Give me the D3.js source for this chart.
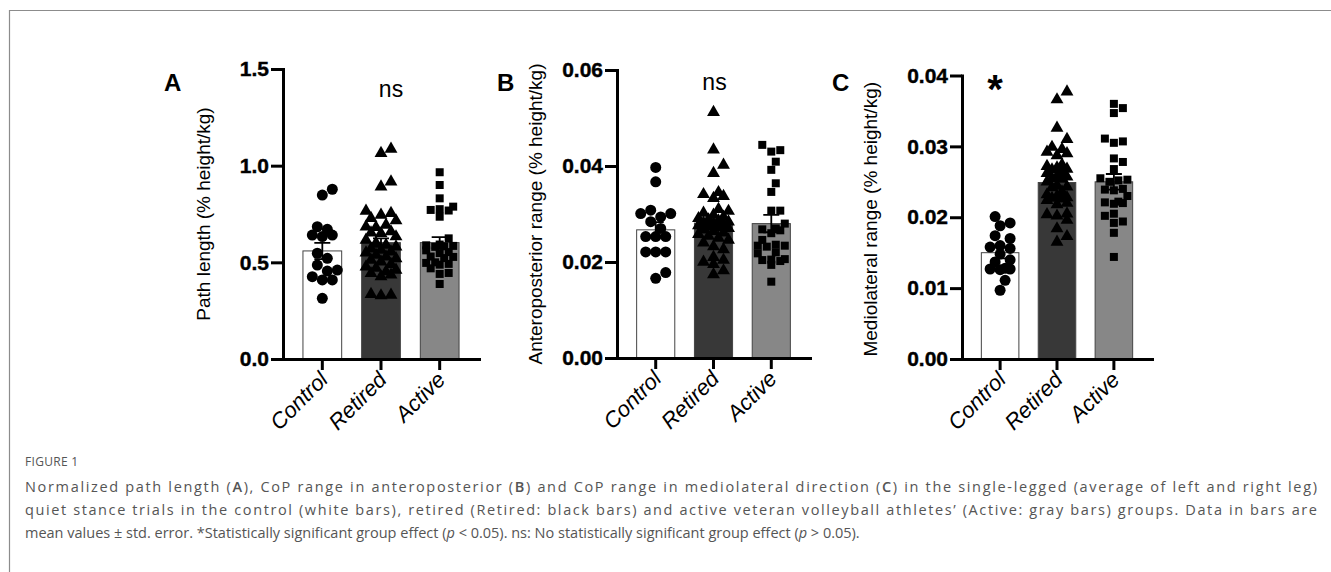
<html>
<head>
<script src="https://cdnjs.cloudflare.com/ajax/libs/d3/7.8.5/d3.min.js"></script>
<style>
body {
   margin: 0;
   background: #fff;
}
svg text {
   font-family: "Liberation Sans", Arial, sans-serif;
}
.caption text {
   font-family: "Open Sans", "Noto Sans", sans-serif;
   fill: #555;
}
</style>
</head>
<body>
<script>

var groups = ['Control', 'Retired', 'Active'];

// A - path length (% height/kg)
var pathControl = [0.878, 0.848, 0.684, 0.671, 0.641, 0.641, 0.633, 0.547, 0.521, 0.486, 0.460, 0.455, 0.426, 0.409, 0.409, 0.314];
var pathRetired = [1.086, 1.064, 0.917, 0.891, 0.766, 0.754, 0.745, 0.728, 0.716, 0.693, 0.684, 0.681, 0.659, 0.653,
                   0.650, 0.633, 0.616, 0.600, 0.590, 0.581, 0.570, 0.564, 0.555, 0.550, 0.538, 0.529, 0.520, 0.512,
                   0.503, 0.490, 0.477, 0.470, 0.460, 0.452, 0.443, 0.435, 0.426, 0.335, 0.331, 0.328];
var pathActive = [0.966, 0.900, 0.831, 0.788, 0.775, 0.771, 0.768, 0.736, 0.624, 0.592, 0.588, 0.585, 0.583, 0.580,
                  0.562, 0.553, 0.548, 0.530, 0.528, 0.522, 0.500, 0.497, 0.492, 0.488, 0.469, 0.445, 0.440, 0.388];
var pathMean = [0.559, 0.602, 0.602];
var pathSem = [0.042, 0.022, 0.028];
var pathTicks = [0, 0.5, 1.0, 1.5];

// B - anteroposterior range
var apControl = [0.0397, 0.0367, 0.0308, 0.0301, 0.0301, 0.0294, 0.0284, 0.0270, 0.0253, 0.0253, 0.0253, 0.0221, 0.0221, 0.0221, 0.0178, 0.0166];
var apRetired = [0.0512, 0.0434, 0.0402, 0.0385, 0.0345, 0.0341, 0.0337, 0.0333, 0.0310, 0.0306, 0.0302, 0.0298, 0.0294, 0.0291,
                 0.0288, 0.0286, 0.0284, 0.0282, 0.0280, 0.0278, 0.0276, 0.0274, 0.0272, 0.0270, 0.0267, 0.0264, 0.0261, 0.0258,
                 0.0254, 0.0250, 0.0246, 0.0240, 0.0232, 0.0226, 0.0210, 0.0204, 0.0200, 0.0195, 0.0182, 0.0174];
var apActive = [0.0444, 0.0433, 0.0430, 0.0409, 0.0392, 0.0364, 0.0346, 0.0307, 0.0307, 0.0280, 0.0270, 0.0268, 0.0266, 0.0260,
                0.0246, 0.0236, 0.0234, 0.0234, 0.0232, 0.0220, 0.0218, 0.0206, 0.0205, 0.0204, 0.0202, 0.0194, 0.0159];
var apMean = [0.0267, 0.0281, 0.0280];
var apSem = [0.0016, 0.0012, 0.0018];
var apTicks = [0, 0.02, 0.04, 0.06];

// C - mediolateral range
var mlControl = [0.0201, 0.0192, 0.0188, 0.0174, 0.0170, 0.0160, 0.0158, 0.0156, 0.0148, 0.0140, 0.0137, 0.0128, 0.0127, 0.0127, 0.0126, 0.0111, 0.0097];
var mlRetired = [0.0377, 0.0366, 0.0326, 0.0310, 0.0299, 0.0296, 0.0292, 0.0290, 0.0287, 0.0274, 0.0272, 0.0270, 0.0268, 0.0267,
                 0.0265, 0.0262, 0.0258, 0.0257, 0.0255, 0.0254, 0.0250, 0.0245, 0.0243, 0.0242, 0.0236, 0.0232, 0.0230, 0.0228,
                 0.0227, 0.0226, 0.0224, 0.0220, 0.0218, 0.0205, 0.0204, 0.0202, 0.0196, 0.0184, 0.0173, 0.0165];
var mlActive = [0.0360, 0.0354, 0.0347, 0.0311, 0.0307, 0.0305, 0.0283, 0.0278, 0.0268, 0.0255, 0.0253, 0.0252, 0.0250, 0.0240,
                0.0239, 0.0238, 0.0230, 0.0222, 0.0221, 0.0220, 0.0219, 0.0205, 0.0202, 0.0194, 0.0192, 0.0178, 0.0144];
var mlMean = [0.0150, 0.0249, 0.0250];
var mlSem = [0.0008, 0.0009, 0.0011];
var mlTicks = [0, 0.01, 0.02, 0.03, 0.04];

var barFill = ['#ffffff', '#383838', '#878787'];
var symbols = [d3.symbolCircle, d3.symbolTriangle, d3.symbolSquare];
var symbolSize = [95, 72, 64];

var svg = d3.select('body').append('svg').attr('width', 1331).attr('height', 572);

// figure frame
svg.append('path')
  .attr('d', 'M9.5,572V10.5H1331')
  .attr('fill', 'none')
  .attr('stroke', '#8c8c8c')
  .attr('stroke-width', 1.2);

// simple beeswarm, returns x offsets
function swarm(vals, y, d, maxOff) {
  var placed = [];
  var out = new Array(vals.length);
  var order = vals.map(function(v, i) { return i; }).sort(function(a, b) { return vals[a] - vals[b]; });
  var step = d / 2;
  order.forEach(function(i) {
    var py = y(vals[i]);
    var best = 0, bestDist = -1;
    for (var k = 0; k * step <= maxOff; k++) {
      var cands = k === 0 ? [0] : [k * step, -k * step];
      for (var c = 0; c < cands.length; c++) {
        var minD = Infinity;
        placed.forEach(function(p) {
          var dd = Math.sqrt((p[0] - cands[c]) * (p[0] - cands[c]) + (p[1] - py) * (p[1] - py));
          if (dd < minD) minD = dd;
        });
        if (minD >= d) { best = cands[c]; bestDist = Infinity; break; }
        if (minD > bestDist) { bestDist = minD; best = cands[c]; }
      }
      if (bestDist === Infinity) break;
    }
    out[i] = best;
    placed.push([best, py]);
  });
  return out;
}

function drawPanel(cfg) {
  var g = svg.append('g');

  var y = d3.scaleLinear().domain([0, cfg.ticks[cfg.ticks.length - 1]]).range([cfg.bottom, cfg.top]);
  var x = d3.scaleBand().domain(groups).range([cfg.left, cfg.right]).paddingInner(0.34).paddingOuter(0.34);
  var bw = x.bandwidth();

  // bars
  g.selectAll('.bar')
    .data(groups)
    .enter()
    .append('rect')
    .attr('x', function(d) { return x(d); })
    .attr('y', function(d, i) { return y(cfg.mean[i]); })
    .attr('width', bw)
    .attr('height', function(d, i) { return cfg.bottom - y(cfg.mean[i]); })
    .attr('fill', function(d, i) { return barFill[i]; })
    .attr('stroke', '#444')
    .attr('stroke-width', 1);

  // points
  cfg.values.forEach(function(vals, i) {
    var offs = swarm(vals, y, i === 2 ? 9 : 10, bw / 2 - 4);
    g.selectAll('.pt' + i)
      .data(vals)
      .enter()
      .append('path')
      .attr('d', d3.symbol().type(symbols[i]).size(symbolSize[i]))
      .attr('transform', function(d, j) {
        return 'translate(' + (x(groups[i]) + bw / 2 + offs[j]) + ',' + y(d) + ')';
      })
      .attr('fill', '#000');
  });

  // error bars (mean +/- sem)
  groups.forEach(function(grp, i) {
    var cx = x(grp) + bw / 2;
    var hi = y(cfg.mean[i] + cfg.sem[i]);
    var lo = y(cfg.mean[i] - cfg.sem[i]);
    g.append('path')
      .attr('d', 'M' + cx + ',' + lo + 'V' + hi + 'M' + (cx - 8) + ',' + hi + 'H' + (cx + 8) +
                 'M' + (cx - 8) + ',' + lo + 'H' + (cx + 8))
      .attr('stroke', '#000')
      .attr('stroke-width', 1.8)
      .attr('fill', 'none');
  });

  var yAxis = g.append('g')
    .attr('transform', 'translate(' + cfg.left + ',0)')
    .call(d3.axisLeft(y).tickValues(cfg.ticks).tickFormat(d3.format(cfg.fmt)).tickSize(12).tickSizeOuter(0).tickPadding(2));

  var xAxis = g.append('g')
    .attr('transform', 'translate(0,' + cfg.bottom + ')')
    .call(d3.axisBottom(x).tickSize(11).tickSizeOuter(0));

  [yAxis, xAxis].forEach(function(a) {
    a.select('.domain').attr('stroke-width', 3).attr('stroke-linecap', 'square');
    a.selectAll('.tick line').attr('stroke-width', 3);
  });

  yAxis.selectAll('text')
    .attr('font-size', 21)
    .attr('font-weight', 'bold')
    .attr('font-family', '"Liberation Sans", Arial, sans-serif')
    .attr('fill', '#000')
    .attr('stroke', '#000')
    .attr('stroke-width', 0.4);

  xAxis.selectAll('text')
    .attr('x', null)
    .attr('y', null)
    .attr('dy', null)
    .attr('text-anchor', 'end')
    .attr('transform', 'translate(7,22) rotate(-45)')
    .attr('font-size', 22)
    .attr('font-style', 'italic')
    .attr('font-family', '"Liberation Sans", Arial, sans-serif')
    .attr('fill', '#000');

  // y title
  g.append('text')
    .attr('transform', 'translate(' + cfg.titleX + ',' + ((cfg.top + cfg.bottom) / 2 + cfg.titleDy) + ') rotate(-90)')
    .attr('text-anchor', 'middle')
    .attr('font-size', 19)
    .attr('fill', '#000')
    .text(cfg.title);

  // panel letter
  g.append('text')
    .attr('x', cfg.letterX)
    .attr('y', 91)
    .attr('font-size', 24)
    .attr('font-weight', 'bold')
    .attr('fill', '#000')
    .text(cfg.letter);

  // significance mark
  var mk = cfg.mark;
  g.append('text')
    .attr('x', x(groups[mk.group]) + bw / 2 + mk.dx)
    .attr('y', mk.y)
    .attr('text-anchor', 'middle')
    .attr('font-size', mk.size)
    .attr('font-weight', mk.bold ? 'bold' : 'normal')
    .attr('fill', '#000')
    .text(mk.text);
}

drawPanel({
  letter: 'A', letterX: 164, title: 'Path length (% height/kg)', titleX: 210, titleDy: 0,
  left: 283, right: 479, top: 69, bottom: 359, ticks: pathTicks, fmt: '.1f',
  values: [pathControl, pathRetired, pathActive], mean: pathMean, sem: pathSem,
  mark: {text: 'ns', group: 1, dx: 10, y: 97, size: 23, bold: false}
});

drawPanel({
  letter: 'B', letterX: 497, title: 'Anteroposterior range (% height/kg)', titleX: 542, titleDy: 0,
  left: 617, right: 810, top: 70, bottom: 358, ticks: apTicks, fmt: '.2f',
  values: [apControl, apRetired, apActive], mean: apMean, sem: apSem,
  mark: {text: 'ns', group: 1, dx: 1, y: 90, size: 23, bold: false}
});

drawPanel({
  letter: 'C', letterX: 832, title: 'Mediolateral range (% height/kg)', titleX: 877, titleDy: 2,
  left: 962, right: 1152, top: 75.5, bottom: 359, ticks: mlTicks, fmt: '.2f',
  values: [mlControl, mlRetired, mlActive], mean: mlMean, sem: mlSem,
  mark: {text: '*', group: 0, dx: -5, y: 103, size: 40, bold: true}
});

// caption
var cap = svg.append('g').attr('class', 'caption');

cap.append('text')
  .attr('x', 25)
  .attr('y', 466)
  .attr('font-size', 12)
  .attr('letter-spacing', 0.3)
  .text('FIGURE 1');

var captionLines = [
  [['Normalized path length (', ''], ['A', 'b'], ['), CoP range in anteroposterior (', ''], ['B', 'b'],
   [') and CoP range in mediolateral direction (', ''], ['C', 'b'], [') in the single-legged (average of left and right leg)', '']],
  [['quiet stance trials in the control (white bars), retired (Retired: black bars) and active veteran volleyball athletes\u2019 (Active: gray bars) groups. Data in bars are', '']],
  [['mean values \u00b1 std. error. *Statistically significant group effect (', ''], ['p', 'i'], [' < 0.05). ns: No statistically significant group effect (', ''],
   ['p', 'i'], [' > 0.05).', '']]
];
var captionWidth = [1292, 1292, null];

captionLines.forEach(function(parts, li) {
  var t = cap.append('text')
    .attr('x', 25)
    .attr('y', 492 + li * 23)
    .attr('font-size', 14.5);
  // the two full lines are stretched to the caption width
  if (captionWidth[li]) t.attr('textLength', captionWidth[li]).attr('lengthAdjust', 'spacing');
  parts.forEach(function(p) {
    t.append('tspan')
      .attr('font-weight', p[1] === 'b' ? 600 : null)
      .attr('font-style', p[1] === 'i' ? 'italic' : null)
      .text(p[0]);
  });
});

</script>
</body>
</html>
